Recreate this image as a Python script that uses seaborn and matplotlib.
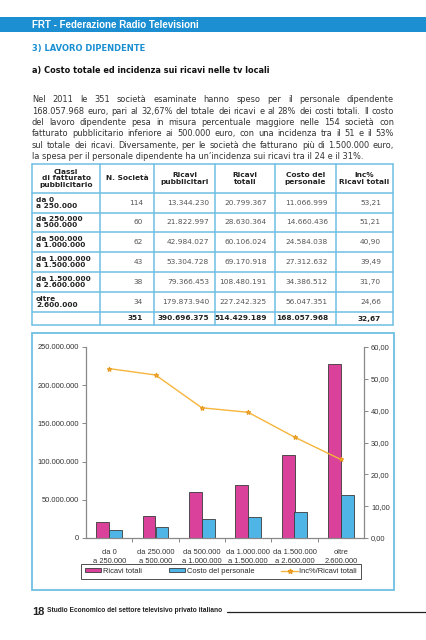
import pandas as pd
import numpy as np
import matplotlib
matplotlib.use("Agg")
import matplotlib.pyplot as plt
import seaborn as sns
from matplotlib.patches import Rectangle, Patch
from matplotlib.lines import Line2D
from matplotlib.ticker import FuncFormatter, FixedLocator

# --- data ---
classi = ["da 0\na 250.000", "da 250.000\na 500.000", "da 500.000\na 1.000.000",
          "da 1.000.000\na 1.500.000", "da 1.500.000\na 2.600.000", "oltre\n2.600.000"]
chart_labels = ["da 0\na 250.000", "da 250.000\na 500.000", "da 500.000\na 1.000.000",
                "da 1.000.000\na 1.500.000", "da 1.500.000\na 2.600.000", "oltre\n2.600.000"]
n_societa = [114, 60, 62, 43, 38, 34]
ricavi_pubb = [13344230, 21822997, 42984027, 53304728, 79366453, 179873940]
ricavi_tot = [20799367, 28630364, 60106024, 69170918, 108480191, 227242325]
costo_pers = [11066999, 14660436, 24584038, 27312632, 34386512, 56047351]
inc_pct = [53.21, 51.21, 40.90, 39.49, 31.70, 24.66]
totali = [351, 390696375, 514429189, 168057968, 32.67]

col_headers = ["Classi\ndi fatturato\npubblicitario", "N. Società", "Ricavi\npubblicitari",
               "Ricavi\ntotali", "Costo del\npersonale", "Inc%\nRicavi totali"]

paragraph = [
    "Nel 2011 le 351 società esaminate hanno speso per il personale dipendente",
    "168.057.968 euro, pari al 32,67% del totale dei ricavi e al 28% dei costi totali. Il costo",
    "del lavoro dipendente pesa in misura percentuale maggiore nelle 154 società con",
    "fatturato pubblicitario inferiore ai 500.000 euro, con una incidenza tra il 51 e il 53%",
    "sul totale dei ricavi. Diversamente, per le società che fatturano più di 1.500.000 euro,",
    "la spesa per il personale dipendente ha un\u2019incidenza sui ricavi tra il 24 e il 31%.",
]

BLUE = "#1b8fd2"
FRAME = "#6fbfe3"
MAGENTA = "#d9419a"
LBLUE = "#4fb4e6"
ORANGE = "#f6b53c"

W, H = 426, 640


def it(v):
    return f"{v:,}".replace(",", ".")


def dec(v):
    return f"{v:.2f}".replace(".", ",")


sns.set_theme(style="white")
plt.rcParams['font.family'] = ['Liberation Sans', 'DejaVu Sans']

fig = plt.figure(figsize=(W / 100, H / 100), dpi=100)
fig.patch.set_facecolor("white")
renderer = fig.canvas.get_renderer()


def fx(x):
    return x / W


def fy(y):
    return 1 - y / H


def txt(x, y, s, **kw):
    return fig.text(fx(x), fy(y), s, **kw)


def fit(t, width):
    bb = t.get_window_extent(renderer)
    t.set_fontsize(t.get_fontsize() * width / bb.width)
    return t


# header bar
fig.patches.append(Rectangle((0, fy(32)), 1, 15 / H, transform=fig.transFigure,
                             facecolor=BLUE, edgecolor="none"))
t = txt(32, 24.5, "FRT - Federazione Radio Televisioni", color="white", fontweight="bold",
        fontsize=7, va="center")
fit(t, 168)

t = txt(32, 48, "3) LAVORO DIPENDENTE", color=BLUE, fontweight="bold", fontsize=7,
        va="center", family=["DejaVu Sans"])
fit(t, 114)

t = txt(32, 71, "a) Costo totale ed incidenza sui ricavi nelle tv locali", color="#111111",
        fontweight="bold", fontsize=6, va="center", family=["DejaVu Sans"])
fit(t, 242)

# paragraph, justified; size taken from the tightest line
t = txt(32, 0, paragraph[1], fontsize=6, family=["DejaVu Sans"])
fit(t, 358)
pfs = t.get_fontsize()
t.remove()
line_y = [100, 111.3, 122.6, 133.9, 145.2, 156.5]
for i, line in enumerate(paragraph):
    y = line_y[i]
    if i == len(paragraph) - 1:
        txt(32, y, line, fontsize=pfs, family=["DejaVu Sans"], color="#333333", va="center")
        continue
    words = line.split(" ")
    objs = [txt(0, y, w, fontsize=pfs, family=["DejaVu Sans"], color="#333333", va="center")
            for w in words]
    widths = [o.get_window_extent(renderer).width for o in objs]
    gap = (362 - sum(widths)) / (len(words) - 1)
    x = 32
    for o, w in zip(objs, widths):
        o.set_x(fx(x))
        x += w + gap

# table
col_x = [32, 100, 154, 215, 275, 336, 393]
row_y = [164, 193, 212.5, 232, 252, 272, 292, 312, 325]
for x in col_x:
    fig.add_artist(Line2D([fx(x), fx(x)], [fy(row_y[0]), fy(row_y[-1])], color=FRAME, lw=1.1))
for y in row_y:
    fig.add_artist(Line2D([fx(col_x[0]), fx(col_x[-1])], [fy(y), fy(y)], color=FRAME, lw=1.1))

tfs = 5.3
for j, h in enumerate(col_headers):
    cx = (col_x[j] + col_x[j + 1]) / 2
    txt(cx, (row_y[0] + row_y[1]) / 2, h, fontsize=tfs, fontweight="bold", ha="center",
        va="center", linespacing=1.05, family=["DejaVu Sans"], color="#222222")

right_x = [143, 209, 267, 328, 381]
for i in range(len(classi)):
    yc = (row_y[i + 1] + row_y[i + 2]) / 2
    txt(36, yc, classi[i], fontsize=tfs, fontweight="bold", va="center", linespacing=1.05,
        family=["DejaVu Sans"], color="#222222")
    vals = [str(n_societa[i]), it(ricavi_pubb[i]), it(ricavi_tot[i]), it(costo_pers[i]),
            dec(inc_pct[i])]
    for rx, v in zip(right_x, vals):
        txt(rx, yc, v, fontsize=tfs, ha="right", va="center", family=["DejaVu Sans"],
            color="#555555")
yc = (row_y[-2] + row_y[-1]) / 2
tot_vals = [str(totali[0]), it(totali[1]), it(totali[2]), it(totali[3]), dec(totali[4])]
for rx, v in zip(right_x, tot_vals):
    txt(rx, yc, v, fontsize=tfs, ha="right", va="center", fontweight="bold",
        family=["DejaVu Sans"], color="#222222")

# chart frame
fig.patches.append(Rectangle((fx(32), fy(590)), 362 / W, 257 / H, transform=fig.transFigure,
                             facecolor="none", edgecolor=FRAME, lw=1.3))

df = pd.DataFrame({
    "classe": chart_labels * 2,
    "serie": ["Ricavi totali"] * 6 + ["Costo del personale"] * 6,
    "valore": ricavi_tot + costo_pers,
})

ax = fig.add_axes([fx(86), fy(538), 278 / W, 191 / H])
sns.barplot(data=df, x="classe", y="valore", hue="serie", order=chart_labels,
            hue_order=["Ricavi totali", "Costo del personale"],
            palette=[MAGENTA, LBLUE], saturation=1, width=0.56, edgecolor="#3a3a3a",
            linewidth=0.6, legend=False, ax=ax)
ax.set_xlim(-0.5, 5.5)
ax.set_ylim(0, 250000000)
ax.set_yticks(np.arange(0, 250000001, 50000000))
ax.yaxis.set_major_formatter(FuncFormatter(lambda v, p: it(int(v))))
ax.set_xlabel("")
ax.set_ylabel("")
ax.set_facecolor("none")
for s in ["top", "right"]:
    ax.spines[s].set_visible(False)
for s in ["left", "bottom"]:
    ax.spines[s].set_color("#888888")
    ax.spines[s].set_linewidth(0.9)
ax.tick_params(axis="y", left=True, length=3, width=0.7, color="#888888", labelsize=5.4,
               labelcolor="#333333", pad=2)
ax.tick_params(axis="x", which="major", bottom=False, labelsize=5.4, labelcolor="#333333", pad=2)
ax.xaxis.set_minor_locator(FixedLocator(np.arange(0.5, 5.5, 1)))
ax.tick_params(axis="x", which="minor", bottom=True, length=3, width=0.7, color="#888888")
for lab in ax.get_xticklabels():
    lab.set_linespacing(1.3)

ax2 = ax.twinx()
sns.lineplot(x=np.arange(6), y=inc_pct, color=ORANGE, lw=1.0, marker="*", markersize=3.5,
             markeredgecolor="#e89a20", ax=ax2)
ax2.set_ylim(0, 60)
ax2.set_yticks(np.arange(0, 61, 10))
ax2.yaxis.set_major_formatter(FuncFormatter(lambda v, p: dec(v)))
ax2.tick_params(axis="y", right=True, length=3, width=0.7, color="#888888", labelsize=5.4,
                labelcolor="#333333", pad=2)
for s in ["top", "left", "bottom"]:
    ax2.spines[s].set_visible(False)
ax2.spines["right"].set_color("#888888")
ax2.spines["right"].set_linewidth(0.9)
ax2.set_ylabel("")

handles = [Patch(facecolor=MAGENTA, edgecolor="#3a3a3a", lw=0.6),
           Patch(facecolor=LBLUE, edgecolor="#3a3a3a", lw=0.6),
           Line2D([], [], color=ORANGE, lw=1.0, marker="*", markersize=3.5,
                  markeredgecolor="#e89a20")]
leg = fig.legend(handles, ["Ricavi totali", "Costo del personale", "Inc%/Ricavi totali"],
                 loc="center", bbox_to_anchor=(fx(221), fy(571.5)), ncol=3, fontsize=5.4,
                 frameon=True, fancybox=False, edgecolor="#333333", framealpha=1,
                 handlelength=2.2, handleheight=0.5, handletextpad=0.2, columnspacing=3.6,
                 borderpad=0.5)
leg.get_frame().set_linewidth(0.6)

# footer
txt(32, 612, "18", fontsize=8, fontweight="bold", va="center", color="#222222")
t = txt(47, 611, "Studio Economico del settore televisivo privato italiano", fontsize=4.5,
        fontweight="bold", va="center", color="#222222")
fit(t, 175)
fig.add_artist(Line2D([fx(227), 1], [fy(612), fy(612)], color="#222222", lw=0.9))

fig.savefig("out.png", dpi=100)
